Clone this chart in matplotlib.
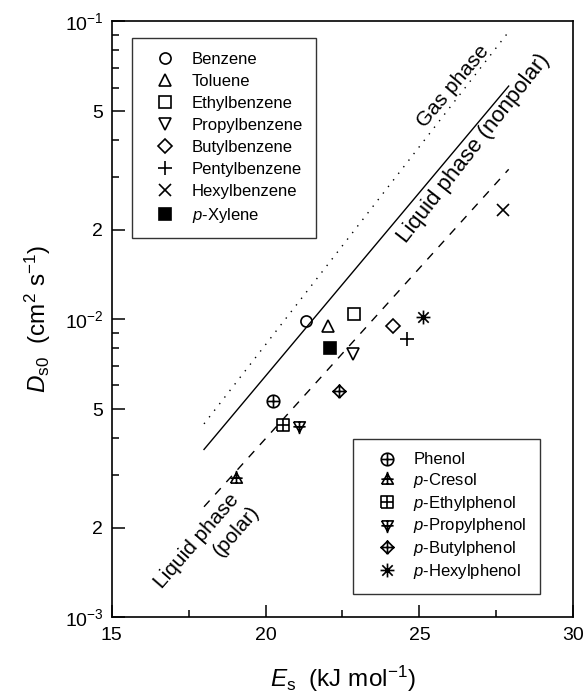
import numpy as np
import matplotlib
matplotlib.use("Agg")
import matplotlib.pyplot as plt
from matplotlib.path import Path

plt.rcParams['font.family'] = ['Liberation Sans', 'DejaVu Sans']
plt.rcParams['mathtext.fontset'] = 'custom'
plt.rcParams['mathtext.rm'] = 'Liberation Sans'
plt.rcParams['mathtext.it'] = 'Liberation Sans:italic'
plt.rcParams['mathtext.bf'] = 'Liberation Sans:bold'

# ---- data ----
nonpolar_names = ['Benzene', 'Toluene', 'Ethylbenzene', 'Propylbenzene',
                  'Butylbenzene', 'Pentylbenzene', 'Hexylbenzene', r'$p$-Xylene']
nonpolar_Es = [21.31, 22.04, 22.88, 22.85, 24.13, 24.61, 27.73, 22.09]
nonpolar_D = [0.00988, 0.00950, 0.01042, 0.00765, 0.00952, 0.00859, 0.0233, 0.00803]

polar_names = ['Phenol', r'$p$-Cresol', r'$p$-Ethylphenol', r'$p$-Propylphenol',
               r'$p$-Butylphenol', r'$p$-Hexylphenol']
polar_Es = [20.23, 19.04, 20.58, 21.08, 22.40, 25.13]
polar_D = [0.00533, 0.00293, 0.00442, 0.00439, 0.00576, 0.01021]

line_Es = [18.0, 27.9]
gas_D = [0.00446, 0.0924]
liq_nonpolar_D = [0.00366, 0.0607]
liq_polar_D = [0.00235, 0.0319]

# ---- custom markers ----
M, L = Path.MOVETO, Path.LINETO

def segs(*pairs):
    v, c = [], []
    for a, b in pairs:
        v += [a, b]
        c += [M, L]
    return Path(v, c)

def poly(pts):
    v = list(pts) + [pts[0]]
    c = [M] + [L] * (len(pts) - 1) + [L]
    return Path(v, c)

cross = segs(((-1, 0), (1, 0)), ((0, -1), (0, 1)))
m_phenol = Path.make_compound_path(Path.unit_circle(), cross)
m_cresol = Path.make_compound_path(
    poly([(-0.95, -0.75), (0.95, -0.75), (0, 0.95)]),
    segs(((0, -0.75), (0, 1.25)), ((-1.0, 0.05), (1.0, 0.05))))
m_ethyl = Path.make_compound_path(
    poly([(-1, -1), (1, -1), (1, 1), (-1, 1)]), cross)
m_propyl = Path.make_compound_path(
    poly([(-0.95, 0.75), (0.95, 0.75), (0, -0.95)]),
    segs(((0, 0.75), (0, -1.25)), ((-1.0, -0.05), (1.0, -0.05))))
m_butyl = Path.make_compound_path(
    poly([(0, -1), (1, 0), (0, 1), (-1, 0)]),
    segs(((-1.1, 0), (1.1, 0)), ((0, -1.1), (0, 1.1))))
d = 0.75
m_hexyl = segs(((-1, 0), (1, 0)), ((0, -1), (0, 1)), ((-d, -d), (d, d)), ((-d, d), (d, -d)))

nonpolar_style = [
    dict(marker='o', ms=8, mfc='none'),
    dict(marker='^', ms=9, mfc='none'),
    dict(marker='s', ms=8, mfc='none'),
    dict(marker='v', ms=9, mfc='none'),
    dict(marker='D', ms=7, mfc='none'),
    dict(marker='+', ms=10),
    dict(marker='x', ms=9),
    dict(marker='s', ms=8, mfc='black'),
]
polar_style = [
    dict(marker=m_phenol, ms=9, mfc='none'),
    dict(marker=m_cresol, ms=11, mfc='none'),
    dict(marker=m_ethyl, ms=8, mfc='none'),
    dict(marker=m_propyl, ms=11, mfc='none'),
    dict(marker=m_butyl, ms=10, mfc='none'),
    dict(marker=m_hexyl, ms=10, mfc='none'),
]

fig = plt.figure(figsize=(5.85, 6.93), dpi=100)
ax = fig.add_axes([0.1909, 0.1092, 0.7891, 0.8598])

ax.plot(line_Es, gas_D, color='black', lw=1.0, ls=(0, (1, 5)))
ax.plot(line_Es, liq_nonpolar_D, color='black', lw=1.0, ls='-')
ax.plot(line_Es, liq_polar_D, color='black', lw=1.0, ls=(0, (6, 6)))

h1 = []
for x, y, name, st in zip(nonpolar_Es, nonpolar_D, nonpolar_names, nonpolar_style):
    ln, = ax.plot([x], [y], ls='none', color='black', mec='black', mew=1.2, label=name, **st)
    h1.append(ln)
h2 = []
for x, y, name, st in zip(polar_Es, polar_D, polar_names, polar_style):
    ln, = ax.plot([x], [y], ls='none', color='black', mec='black', mew=1.2, label=name, **st)
    h2.append(ln)

ax.set_yscale('log')
ax.set_xlim(15, 30)
ax.set_ylim(1e-3, 1e-1)
ax.set_xticks([15, 20, 25, 30])
ax.set_xticks([17.5, 22.5, 27.5], minor=True)
ax.set_xticklabels(['15', '20', '25', '30'])
yt = [1e-3, 2e-3, 5e-3, 1e-2, 2e-2, 5e-2, 1e-1]
ylab = [r'$10^{-3}$', '2', '5', r'$10^{-2}$', '2', '5', r'$10^{-1}$']
ax.set_yticks(yt)
ax.set_yticklabels(ylab)
minor_y = [k * 10.0 ** e for e in (-3, -2) for k in (3, 4, 6, 7, 8, 9)]
ax.set_yticks(minor_y, minor=True)
ax.yaxis.set_minor_formatter(matplotlib.ticker.NullFormatter())

ax.tick_params(which='both', direction='in', top=False, right=False, labelsize=14, width=1.1)
ax.tick_params(which='major', length=9)
ax.tick_params(which='minor', length=5)
ax.tick_params(axis='x', pad=7)
ax.tick_params(axis='y', pad=6)
for s in ax.spines.values():
    s.set_linewidth(1.2)

ax.set_xlabel(r'$E_{\mathrm{s}}$  (kJ mol$^{-1}$)', fontsize=17.5, labelpad=14)
ax.set_ylabel(r'$D_{\mathrm{s0}}$  (cm$^2$ s$^{-1}$)', fontsize=17.5, labelpad=8)

ax.text(26.09, 0.0607, 'Gas phase', rotation=50, fontsize=15,
        ha='center', va='center', rotation_mode='anchor')
ax.text(26.75, 0.0376, 'Liquid phase (nonpolar)', rotation=52, fontsize=16,
        ha='center', va='center', rotation_mode='anchor')
ax.text(17.77, 0.00180, 'Liquid phase', rotation=49, fontsize=15,
        ha='center', va='center', rotation_mode='anchor')
ax.text(19.04, 0.00195, '(polar)', rotation=49, fontsize=15,
        ha='center', va='center', rotation_mode='anchor')

legkw = dict(fontsize=12, frameon=True, fancybox=False, borderpad=0.8,
             handletextpad=0.4, handlelength=2.4, borderaxespad=0)
leg1 = ax.legend(handles=h1, loc='upper left', bbox_to_anchor=(0.0433, 0.9718),
                 labelspacing=0.42, **legkw)
leg1.get_frame().set_edgecolor('black')
leg1.get_frame().set_linewidth(1.0)
ax.add_artist(leg1)
leg2 = ax.legend(handles=h2, loc='lower left', bbox_to_anchor=(0.5234, 0.0391),
                 labelspacing=0.22, **legkw)
leg2.get_frame().set_edgecolor('black')
leg2.get_frame().set_linewidth(1.0)

fig.savefig('out.png', dpi=100)
